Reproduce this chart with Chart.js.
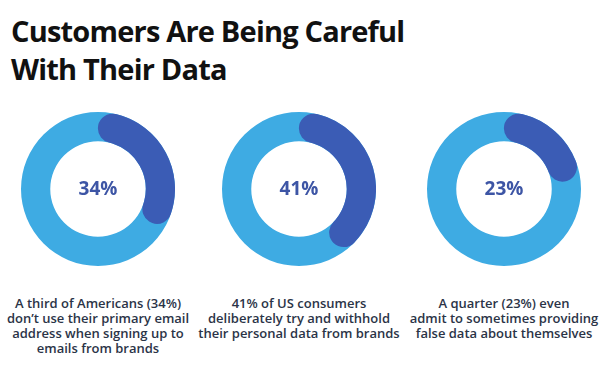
<!DOCTYPE html>
<html>
<head>
<meta charset="utf-8">
<script src="https://cdn.jsdelivr.net/npm/chart.js@4"></script>
<style>
  html, body { margin:0; padding:0; background:#fff; }
  body { width:600px; height:375px; position:relative; overflow:hidden; }
  #title { position:absolute; left:11px; top:12px; font-family:"Open Sans"; font-weight:700; font-size:29px; line-height:38px; letter-spacing:-0.8px; color:#111; white-space:nowrap; }
  .box { position:absolute; top:112px; width:154px; height:154px; }
  .cap { position:absolute; top:296px; width:220px; text-align:center; font-family:"Open Sans"; font-weight:600; font-size:13px; line-height:15px; color:#2b3447; white-space:nowrap; }
</style>
</head>
<body>
<div id="title">Customers Are Being Careful<br>With Their Data</div>
<div class="box" style="left:21px"><canvas id="c0" width="154" height="154"></canvas></div>
<div class="box" style="left:222px"><canvas id="c1" width="154" height="154"></canvas></div>
<div class="box" style="left:427px"><canvas id="c2" width="154" height="154"></canvas></div>
<div class="cap" id="t0" style="left:-12px"></div>
<div class="cap" id="t1" style="left:189px"></div>
<div class="cap" id="t2" style="left:394px"></div>
<script>
const percentages = [34, 41, 23];
const centerLabels = ["34%", "41%", "23%"];
const captions = [
  ["A third of Americans (34%)", "don\u2019t use their primary email", "address when signing up to", "emails from brands"],
  ["41% of US consumers", "deliberately try and withhold", "their personal data from brands"],
  ["A quarter (23%) even", "admit to sometimes providing", "false data about themselves"]
];
const darkBlue = "#3b5cb5";
const lightBlue = "#3eabe3";

const ringPlugin = {
  id: "ring",
  beforeDatasetsDraw(chart) {
    const arc = chart.getDatasetMeta(0).data[0];
    if (!arc) return;
    const ctx = chart.ctx;
    ctx.save();
    ctx.beginPath();
    ctx.arc(arc.x, arc.y, arc.outerRadius, 0, Math.PI * 2);
    ctx.arc(arc.x, arc.y, arc.innerRadius, 0, Math.PI * 2, true);
    ctx.closePath();
    ctx.fillStyle = lightBlue;
    ctx.fill();
    ctx.restore();
  },
  afterDatasetsDraw(chart, args, opts) {
    const arc = chart.getDatasetMeta(0).data[0];
    if (!arc) return;
    const ctx = chart.ctx;
    ctx.save();
    ctx.font = "700 19px 'Open Sans'";
    ctx.fillStyle = "#3d55a5";
    ctx.textAlign = "center";
    ctx.textBaseline = "middle";
    ctx.fillText(opts.label, arc.x, arc.y + 1);
    ctx.restore();
  }
};

percentages.forEach((p, i) => {
  document.getElementById("t" + i).innerHTML = captions[i].join("<br>");
  new Chart(document.getElementById("c" + i), {
    type: "doughnut",
    data: {
      labels: ["Yes", "Other"],
      datasets: [{
        data: [p, 100 - p],
        backgroundColor: [darkBlue, "rgba(0,0,0,0)"],
        borderWidth: 0,
        borderRadius: [20, 0]
      }]
    },
    options: {
      responsive: false,
      animation: false,
      cutout: "62%",
      layout: { padding: 0 },
      plugins: {
        legend: { display: false },
        tooltip: { enabled: false },
        ring: { label: centerLabels[i] }
      }
    },
    plugins: [ringPlugin]
  });
});
</script>
</body>
</html>
